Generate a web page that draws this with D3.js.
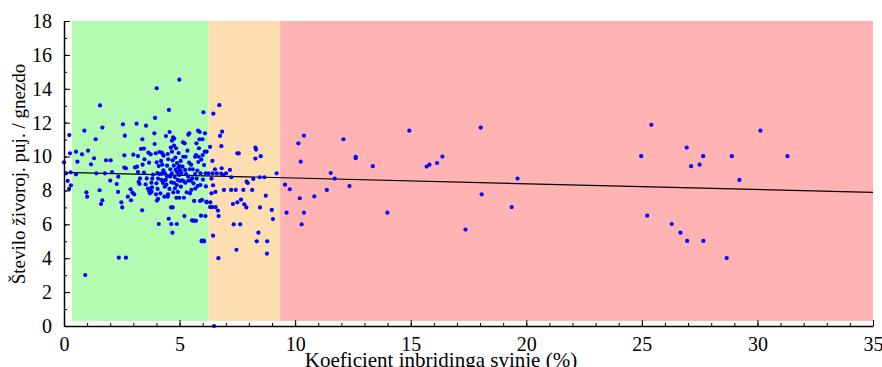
<!DOCTYPE html>
<html>
<head>
<meta charset="utf-8">
<script src="https://cdn.jsdelivr.net/npm/d3@7"></script>
<style>
  body { margin: 0; background: #fff; }
</style>
</head>
<body>
<div id="chart"></div>
<script>
// Inbreeding coefficient (%) of the sow vs. piglets born alive per litter
const inbreeding = [
  0.0, 0.23, 0.26, 0.09, 0.16, 0.22, 0.3, 0.29, 0.52, 0.58, 0.52, 0.78, 0.88, 1.04, 0.97, 1.0, 0.92,
  1.17, 1.3, 1.37, 1.4, 1.56, 1.54, 1.6, 1.66, 1.66, 1.77, 1.82, 2.0, 2.02, 2.08, 2.28, 2.35, 2.34,
  2.37, 2.48, 2.52, 2.55, 2.63, 2.61, 2.61, 2.68, 2.68, 2.76, 2.88, 2.9, 2.96, 3.0, 3.04, 3.07, 3.14,
  3.16, 3.2, 3.23, 3.2, 3.27, 3.29, 3.33, 3.38, 3.39, 3.4, 3.46, 3.48, 3.46, 3.53, 3.55, 3.58, 3.63,
  3.65, 3.68, 3.69, 3.74, 3.72, 3.75, 3.78, 3.79, 3.81, 3.82, 3.85, 3.91, 3.92, 3.94, 3.97, 3.98,
  4.0, 4.01, 4.01, 4.02, 4.04, 4.05, 4.07, 4.07, 4.1, 4.1, 4.13, 4.14, 4.17, 4.2, 4.21, 4.23, 4.24,
  4.25, 4.27, 4.28, 4.3, 4.31, 4.33, 4.34, 4.36, 4.37, 4.4, 4.41, 4.43, 4.46, 4.46, 4.49, 4.49, 4.5,
  4.51, 4.53, 4.54, 4.56, 4.57, 4.59, 4.6, 4.62, 4.63, 4.64, 4.64, 4.66, 4.67, 4.67, 4.69, 4.7, 4.7,
  4.72, 4.73, 4.75, 4.76, 4.76, 4.77, 4.79, 4.8, 4.82, 4.83, 4.85, 4.86, 4.88, 4.88, 4.89, 4.9, 4.92,
  4.93, 4.95, 4.96, 4.98, 4.99, 4.99, 5.0, 5.02, 5.03, 5.05, 5.06, 5.08, 5.11, 5.13, 5.15, 5.16, 5.18,
  5.19, 5.21, 5.22, 5.24, 5.25, 5.26, 5.28, 5.31, 5.34, 5.37, 5.38, 5.39, 5.41, 5.42, 5.44, 5.45,
  5.48, 5.5, 5.51, 5.54, 5.55, 5.57, 5.6, 5.63, 5.65, 5.67, 5.67, 5.68, 5.71, 5.73, 5.74, 5.77, 5.78,
  5.8, 5.81, 5.83, 5.84, 5.86, 5.87, 5.89, 5.9, 5.91, 5.93, 5.94, 5.96, 5.97, 5.99, 6.0, 6.01, 6.03,
  6.04, 6.06, 6.09, 6.1, 6.12, 6.13, 6.14, 6.16, 6.17, 5.57, 5.71, 5.96, 6.06, 6.17,
  // 6.25 - 9.4 %
  6.72, 6.46, 6.84, 6.75, 6.32, 6.81, 7.5, 7.56, 8.28, 8.31, 8.28, 8.51, 6.42, 6.53, 6.82, 7.18, 7.01,
  6.25, 6.43, 6.61, 6.8, 6.88, 6.38, 7.24, 8.19, 8.47, 8.67, 9.2, 7.9, 7.95, 6.45, 6.92, 7.23, 7.43,
  7.76, 8.14, 6.55, 6.38, 8.73, 7.66, 7.5, 7.31, 7.8, 7.89, 6.33, 6.32, 6.42, 6.56, 6.66, 8.48, 8.99,
  6.69, 9.04, 7.34, 7.62, 8.41, 6.45, 8.34, 8.79, 7.46, 8.78, 6.68, 6.49,
  // above 9.4 %
  9.56, 9.77, 9.63, 10.14, 10.38, 10.24, 10.2, 10.38, 10.28, 10.83, 11.37, 11.54, 11.71, 12.09, 12.35,
  12.62, 12.62, 13.36, 13.99, 14.94, 15.69, 15.81, 16.14, 16.37, 17.37, 18.03, 18.07, 19.37, 19.62,
  25.41, 24.97, 26.94, 27.65, 27.13, 27.5, 28.89, 30.13, 31.3, 29.22, 25.23, 26.29, 26.67, 26.96,
  27.66, 28.67
]
const piglets = [
  9.66, 11.27, 10.19, 9.01, 8.56, 8.09, 8.3, 9.07, 10.29, 9.7, 8.95, 10.13, 11.53, 10.35, 7.89, 7.63, 3.01,
  9.54, 9.9, 11.02, 9.01, 13.02, 8.01, 7.2, 7.42, 11.71, 9.01, 9.78, 8.58, 9.78, 9.09, 8.38, 8.81, 7.91,
  4.03, 7.3, 7.0, 11.9, 11.23, 10.07, 9.35, 9.31, 4.03, 7.63, 8.07, 7.42, 7.87, 10.11, 7.77, 9.36, 11.94,
  9.4, 9.09, 8.5, 10.03, 8.38, 8.71, 10.45, 6.83, 11.02, 9.52, 10.47, 9.84, 9.05, 8.36, 11.82, 8.71, 8.11,
  10.23, 9.64, 7.95, 8.11, 7.83, 10.13, 8.46, 7.93, 8.18, 8.7, 8.93, 11.37, 10.74, 12.28, 10.19, 7.77,
  8.42, 14.03, 9.66, 7.4, 9.03, 8.09, 8.7, 7.5, 6.02, 9.44, 10.27, 8.97, 7.83, 9.74, 8.62, 10.23, 9.01,
  9.52, 10.15, 8.44, 9.19, 10.05, 8.58, 7.63, 8.22, 9.01, 8.62, 11.21, 8.34, 8.83, 9.46, 10.15, 7.63, 7.77,
  9.84, 6.33, 12.75, 8.09, 11.45, 8.83, 9.25, 10.53, 7.0, 6.02, 8.48, 9.01, 10.94, 10.29, 5.51, 7.0, 9.78,
  11.13, 7.89, 9.46, 10.64, 8.44, 11.06, 8.79, 8.13, 9.94, 9.21, 10.49, 7.57, 6.02, 8.32, 9.62, 9.07, 8.62,
  7.91, 9.36, 10.21, 8.91, 14.54, 7.57, 9.44, 8.56, 9.19, 9.74, 8.22, 9.03, 8.6, 9.4, 10.84, 9.99, 8.54,
  7.57, 6.49, 10.78, 9.21, 8.46, 9.99, 8.97, 7.89, 10.35, 8.83, 11.29, 8.58, 9.64, 11.37, 9.25, 7.83,
  8.58, 9.52, 8.03, 6.24, 8.71, 9.25, 8.42, 7.38, 6.22, 9.99, 8.97, 8.11, 10.09, 10.78, 8.7, 9.17, 8.26,
  11.53, 9.68, 9.99, 10.49, 11.02, 11.45, 7.38, 8.32, 9.01, 6.51, 9.82, 5.04, 7.44, 11.02, 10.09, 8.64, 12.61,
  5.04, 9.5, 10.29, 11.37, 6.49, 9.01, 8.24, 7.34, 10.29, 6.21, 6.21, 5.0, 5.0, 7.3,
  // 6.25 - 9.4 %
  13.03, 12.53, 11.47, 11.22, 10.57, 10.61, 10.19, 10.19, 10.53, 10.41, 9.88, 10.02, 9.74, 9.25, 9.31, 9.21, 9.01,
  9.01, 9.01, 9.01, 9.0, 8.9, 8.7, 8.78, 8.68, 8.78, 8.78, 9.01, 8.52, 8.44, 8.3, 8.03, 8.03, 8.03,
  8.03, 8.03, 7.91, 7.83, 7.69, 7.46, 7.3, 7.2, 7.18, 7.0, 7.3, 7.02, 7.02, 7.02, 6.81, 7.0, 6.85,
  6.49, 6.31, 6.0, 6.0, 5.51, 5.33, 5.0, 5.0, 4.5, 4.27, 4.0, 0.0,
  // above 9.4 %
  8.34, 8.07, 6.69, 10.78, 11.23, 9.7, 7.54, 6.69, 6.0, 7.65, 8.03, 9.03, 8.7, 11.02, 8.26,
  9.99, 9.9, 9.43, 6.69, 11.53, 9.41, 9.52, 9.62, 10.0, 5.69, 11.71, 7.77, 7.02, 8.7,
  11.87, 10.02, 10.53, 10.02, 9.43, 9.52, 10.02, 11.53, 10.02, 8.62, 6.51, 6.02, 5.51, 5.02,
  5.02, 4.01
]

// inbreeding classes shaded behind the points
const bandStart = [0.35, 6.25, 9.35]
const bandEnd = [6.25, 9.35, 35]
const bandColors = ['#b3fbb3', '#fddeb0', '#ffb3b3']

// fitted trend line
const trendX = [0, 35]
const trendY = [9.07, 7.89]

const xTicks = [0, 5, 10, 15, 20, 25, 30, 35]
const yTicks = [0, 2, 4, 6, 8, 10, 12, 14, 16, 18]

const width = 882
const height = 367
const margin = { top: 21, right: 9, bottom: 41, left: 64 }
const innerW = width - margin.left - margin.right
const innerH = height - margin.top - margin.bottom
const serif = '"Liberation Serif", "Times New Roman", "DejaVu Serif", serif'

const data = inbreeding.map((v, i) => ({ x: v, y: piglets[i] }))

const svg = d3.select('#chart')
  .append('svg')
  .attr('width', width)
  .attr('height', height)

const g = svg.append('g')
  .attr('transform', `translate(${margin.left},${margin.top})`)

const x = d3.scaleLinear().domain([0, 35]).range([0, innerW])
const y = d3.scaleLinear().domain([0, 18]).range([innerH, 0])

// background bands
g.selectAll('rect.band')
  .data(bandStart)
  .enter()
  .append('rect')
  .attr('class', 'band')
  .attr('x', d => x(d))
  .attr('width', (d, i) => x(bandEnd[i]) - x(d))
  .attr('y', y(18))
  .attr('height', y(0.3) - y(18))
  .attr('fill', (d, i) => bandColors[i])

// trend line
g.append('line')
  .attr('x1', x(trendX[0]))
  .attr('y1', y(trendY[0]))
  .attr('x2', x(trendX[1]))
  .attr('y2', y(trendY[1]))
  .attr('stroke', '#000')
  .attr('stroke-width', 1.2)

// points
g.selectAll('circle')
  .data(data)
  .enter()
  .append('circle')
  .attr('cx', d => x(d.x))
  .attr('cy', d => y(d.y))
  .attr('r', 2.1)
  .attr('fill', '#0000ff')

// minor ticks first, then major ticks with labels
const xMinor = d3.axisBottom(x).ticks(35).tickSizeInner(-3).tickSizeOuter(0).tickFormat('')
const yMinor = d3.axisLeft(y).ticks(18).tickSizeInner(-3).tickSizeOuter(0).tickFormat('')

g.append('g')
  .attr('transform', `translate(0,${innerH})`)
  .call(xMinor)
  .call(a => a.select('.domain').remove())

g.append('g')
  .call(yMinor)
  .call(a => a.select('.domain').remove())

const xAxis = d3.axisBottom(x).tickValues(xTicks).tickSizeInner(-6).tickSizeOuter(0).tickPadding(11)
const yAxis = d3.axisLeft(y).tickValues(yTicks).tickSizeInner(-6).tickSizeOuter(0).tickPadding(12)

g.append('g')
  .attr('transform', `translate(0,${innerH})`)
  .call(xAxis)
  .call(a => a.select('.domain').attr('stroke-width', 1.5))
  .call(a => a.selectAll('.tick text').style('font-family', serif).style('font-size', '20px').attr('fill', '#000'))

g.append('g')
  .call(yAxis)
  .call(a => a.select('.domain').attr('stroke-width', 1.5))
  .call(a => a.selectAll('.tick text').style('font-family', serif).style('font-size', '20px').attr('fill', '#000'))

// axis titles
svg.append('text')
  .attr('x', 441)
  .attr('y', 367)
  .attr('text-anchor', 'middle')
  .style('font-family', serif)
  .style('font-size', '21px')
  .text('Koeficient inbridinga svinje (%)')

svg.append('text')
  .attr('transform', 'rotate(-90)')
  .attr('x', -174)
  .attr('y', 25)
  .attr('text-anchor', 'middle')
  .style('font-family', serif)
  .style('font-size', '19px')
  .text('Število živoroj. puj. / gnezdo')
</script>
</body>
</html>
